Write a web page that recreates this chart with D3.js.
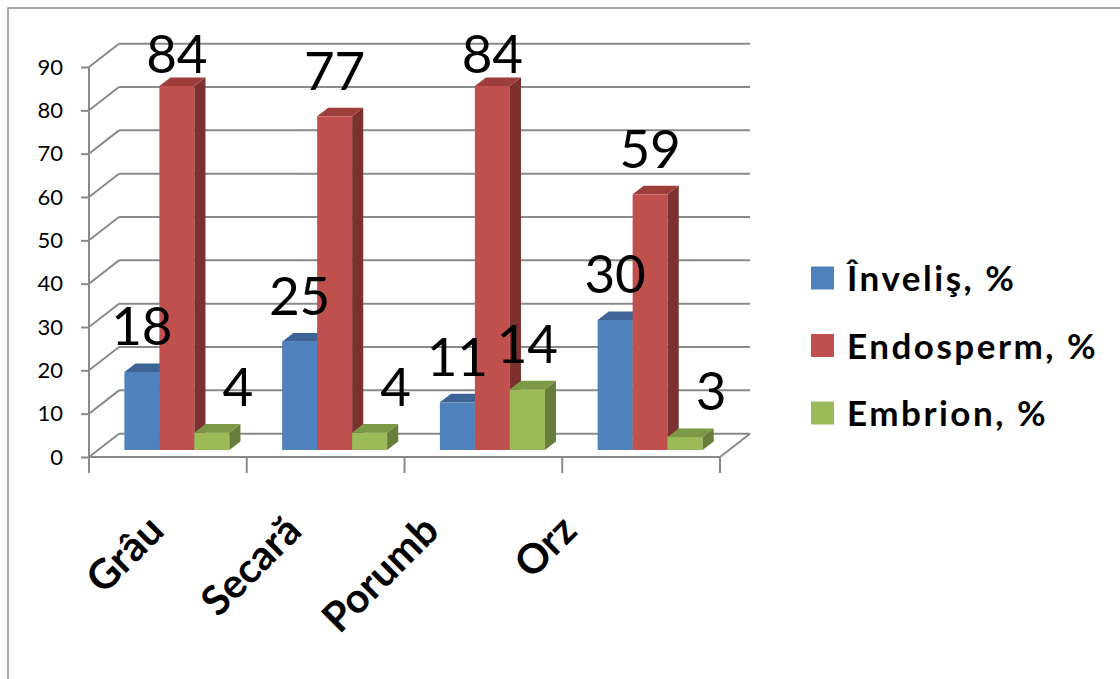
<!DOCTYPE html>
<html>
<head>
<meta charset="utf-8">
<script src="https://cdn.jsdelivr.net/npm/d3@7"></script>
<style>
  body { margin: 0; background: #fff; }
  svg { display: block; font-family: Lato, "Open Sans", sans-serif; }
</style>
</head>
<body>
<div id="chart"></div>
<script>
// data
const categories = ['Grâu', 'Secară', 'Porumb', 'Orz'];
const series = ['Înveliş, %', 'Endosperm, %', 'Embrion, %'];
const inveli = [18, 25, 11, 30];
const endosperm = [84, 77, 84, 59];
const embrion = [4, 4, 14, 3];
const yTicks = [0, 10, 20, 30, 40, 50, 60, 70, 80, 90];

const values = [inveli, endosperm, embrion];
const colors = ['#4F81BD', '#C0504D', '#9BBB59'];
const topColors = ['#3D6597', '#9E3E3B', '#7C9A45'];
const sideColors = ['#35577F', '#7C3130', '#677D3A'];

const W = 1120, H = 679;
const svg = d3.select('#chart').append('svg')
  .attr('width', W).attr('height', H);

// chart area border (extends past the picture on right and bottom)
svg.append('rect')
  .attr('x', 8).attr('y', 8).attr('width', 1400).attr('height', 1000)
  .attr('fill', 'none').attr('stroke', '#8a8a8a').attr('stroke-width', 1.5);

// 3d geometry
const depth = { dx: 30, dy: -23.3 };   // front plane -> back wall
const barZ0 = 0.3, barZ1 = 0.67;      // bar front / back depth fraction

const y = d3.scaleLinear().domain([0, 90]).range([457, 67]);
const x = d3.scaleBand().domain(categories).range([89, 720]).padding(0);
const xs = d3.scaleBand().domain(series).range([0, x.bandwidth()])
  .paddingInner(0).paddingOuter(0.754);

const grid = '#8a8a8a';
const g = svg.append('g');

// back wall gridlines + side diagonals
yTicks.forEach(t => {
  const yf = y(t);
  g.append('line')
    .attr('x1', 89 + depth.dx).attr('x2', 720 + depth.dx)
    .attr('y1', yf + depth.dy).attr('y2', yf + depth.dy)
    .attr('stroke', grid).attr('stroke-width', 2);
  g.append('line')
    .attr('x1', 89).attr('x2', 89 + depth.dx)
    .attr('y1', yf).attr('y2', yf + depth.dy)
    .attr('stroke', grid).attr('stroke-width', 2);
});

// floor front edge and right edge
g.append('line')
  .attr('x1', 89).attr('x2', 720).attr('y1', y(0)).attr('y2', y(0))
  .attr('stroke', grid).attr('stroke-width', 2);
g.append('line')
  .attr('x1', 720).attr('x2', 720 + depth.dx)
  .attr('y1', y(0)).attr('y2', y(0) + depth.dy)
  .attr('stroke', grid).attr('stroke-width', 2);

// value axis
const yAxis = d3.axisLeft(y).tickValues(yTicks).tickSize(8).tickPadding(18);
const ya = svg.append('g').attr('transform', 'translate(89,0)').call(yAxis);
ya.select('.domain').attr('stroke', grid).attr('stroke-width', 2)
  .attr('d', `M0,${y(90)}V${y(0)}`);
ya.selectAll('.tick line').attr('stroke', grid).attr('stroke-width', 2);
ya.selectAll('.tick text').attr('font-size', 22).attr('fill', '#000')
  .attr('font-family', 'Lato, sans-serif');

// category ticks
const catEdges = categories.map(c => x(c)).concat([x(categories[categories.length - 1]) + x.bandwidth()]);
svg.append('g').selectAll('line').data(catEdges).join('line')
  .attr('x1', d => d).attr('x2', d => d)
  .attr('y1', y(0)).attr('y2', y(0) + 16)
  .attr('stroke', grid).attr('stroke-width', 2);

// bars
const bw = xs.bandwidth();
const ox = depth.dx * barZ0, oy = depth.dy * barZ0;
const bdx = depth.dx * (barZ1 - barZ0), bdy = depth.dy * (barZ1 - barZ0);
const bars = svg.append('g');
const labels = [];

categories.forEach((c, ci) => {
  series.forEach((s, si) => {
    const v = values[si][ci];
    const x0 = x(c) + xs(s) + ox, x1 = x0 + bw;
    const yb = y(0) + oy, yt = y(v) + oy;
    // front
    bars.append('rect')
      .attr('x', x0).attr('y', yt).attr('width', bw).attr('height', yb - yt)
      .attr('fill', colors[si]);
    // side
    bars.append('path')
      .attr('d', `M${x1},${yt}L${x1 + bdx},${yt + bdy}L${x1 + bdx},${yb + bdy}L${x1},${yb}Z`)
      .attr('fill', sideColors[si]);
    // top
    bars.append('path')
      .attr('d', `M${x0},${yt}L${x1},${yt}L${x1 + bdx},${yt + bdy}L${x0 + bdx},${yt + bdy}Z`)
      .attr('fill', topColors[si]);

    let lx = (x0 + x1) / 2;
    if (v < 5) lx += 26;             // pushed aside from the tall neighbour
    const ly = Math.max(yt + bdy - 18, 73);
    labels.push({ v, lx, ly });
  });
});

svg.append('g').selectAll('text').data(labels).join('text')
  .attr('x', d => d.lx).attr('y', d => d.ly)
  .attr('text-anchor', 'middle')
  .attr('font-size', 53).attr('fill', '#000')
  .text(d => d.v);

// category labels, rotated
const xl = d3.scalePoint().domain(categories).range([166, 579]);
svg.append('g').selectAll('text').data(categories).join('text')
  .attr('transform', d => `translate(${xl(d)},533) rotate(-45)`)
  .attr('text-anchor', 'end')
  .attr('font-size', 41).attr('font-weight', 'bold').attr('fill', '#000')
  .text(d => d);

// legend
const lg = svg.append('g').attr('transform', 'translate(811,278)');
const items = lg.selectAll('g').data(series).join('g')
  .attr('transform', (d, i) => `translate(0,${i * 67.5})`);
items.append('rect')
  .attr('x', 0).attr('y', -11.5).attr('width', 23).attr('height', 23)
  .attr('fill', (d, i) => colors[i]);
items.append('text')
  .attr('x', 36).attr('y', 13)
  .attr('font-size', 35).attr('font-weight', 'bold').attr('fill', '#000')
  .attr('letter-spacing', 2.5)
  .text(d => d);
</script>
</body>
</html>
